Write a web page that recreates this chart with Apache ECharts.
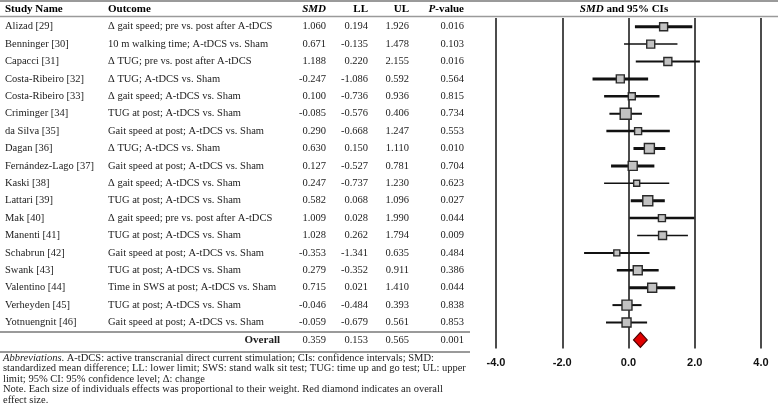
<!DOCTYPE html>
<html>
<head>
<meta charset="utf-8">
<title>Forest plot: SMD and 95% CIs</title>
<script src="https://cdn.jsdelivr.net/npm/echarts@6/dist/echarts.min.js"></script>
<style>
html, body { margin: 0; padding: 0; background: #fff; }
#chart { width: 778px; height: 411px; }
</style>
</head>
<body>
<div id="chart"></div>
<script>
// table values, one entry per study
var studies = ['Alizad [29]', 'Benninger [30]', 'Capacci [31]', 'Costa-Ribeiro [32]', 'Costa-Ribeiro [33]',
  'Criminger [34]', 'da Silva [35]', 'Dagan [36]', 'Fernández-Lago [37]', 'Kaski [38]', 'Lattari [39]',
  'Mak [40]', 'Manenti [41]', 'Schabrun [42]', 'Swank [43]', 'Valentino [44]', 'Verheyden [45]', 'Yotnuengnit [46]'];
var outcomes = ['Δ gait speed; pre vs. post after A-tDCS', '10 m walking time; A-tDCS vs. Sham',
  'Δ TUG; pre vs. post after A-tDCS', 'Δ TUG; A-tDCS vs. Sham', 'Δ gait speed; A-tDCS vs. Sham',
  'TUG at post; A-tDCS vs. Sham', 'Gait speed at post; A-tDCS vs. Sham', 'Δ TUG; A-tDCS vs. Sham',
  'Gait speed at post; A-tDCS vs. Sham', 'Δ gait speed; A-tDCS vs. Sham', 'TUG at post; A-tDCS vs. Sham',
  'Δ gait speed; pre vs. post after A-tDCS', 'TUG at post; A-tDCS vs. Sham', 'Gait speed at post; A-tDCS vs. Sham',
  'TUG at post; A-tDCS vs. Sham', 'Time in SWS at post; A-tDCS vs. Sham', 'TUG at post; A-tDCS vs. Sham',
  'Gait speed at post; A-tDCS vs. Sham'];
var smd = [1.060, 0.671, 1.188, -0.247, 0.100, -0.085, 0.290, 0.630, 0.127, 0.247, 0.582, 1.009, 1.028, -0.353, 0.279, 0.715, -0.046, -0.059];
var ll = [0.194, -0.135, 0.220, -1.086, -0.736, -0.576, -0.668, 0.150, -0.527, -0.737, 0.068, 0.028, 0.262, -1.341, -0.352, 0.021, -0.484, -0.679];
var ul = [1.926, 1.478, 2.155, 0.592, 0.936, 0.406, 1.247, 1.110, 0.781, 1.230, 1.096, 1.990, 1.794, 0.635, 0.911, 1.410, 0.393, 0.561];
var pValues = [0.016, 0.103, 0.016, 0.564, 0.815, 0.734, 0.553, 0.010, 0.704, 0.623, 0.027, 0.044, 0.009, 0.484, 0.386, 0.044, 0.838, 0.853];

// pooled estimate
var overallSmd = 0.359;
var overallLL = 0.153;
var overallUL = 0.565;
var overallP = 0.001;

var xTicks = [-4, -2, 0, 2, 4];

// look only: box size (px) and CI stroke width per study, as drawn in the figure
var boxSize = [8, 8, 8, 8, 7, 11, 7, 10, 9, 6, 10, 7, 8, 6, 9, 9, 10, 9];
var ciWidth = [3, 1.5, 2, 3, 2.5, 2, 2.5, 3, 3, 1.5, 3, 2.5, 1.5, 2, 2.5, 3, 2, 2];

var SERIF = '"Liberation Serif", "Times New Roman", serif';
var SANS = '"Liberation Sans", Arial, sans-serif';
var TXT = '#1c1c1c';
var nRows = studies.length + 1;   // studies + overall row
var GRID_LEFT = 496;

function fmt(v) { return v.toFixed(3); }
function blankExceptLast(last) {
  var arr = [];
  for (var i = 0; i < nRows - 1; i++) arr.push('');
  arr.push(last);
  return arr;
}

// every table column is a category axis sharing the plot rows
function columnAxis(labels, margin, align, extra) {
  return {
    type: 'category',
    position: 'left',
    inverse: true,
    data: labels,
    axisLine: { show: false },
    axisTick: { show: false },
    splitLine: { show: false },
    axisLabel: Object.assign({
      show: true, interval: 0, margin: margin, align: align,
      color: TXT, fontFamily: SERIF, fontSize: 10.5
    }, extra || {})
  };
}

var chart = echarts.init(document.getElementById('chart'));

var option = {
  animation: false,
  grid: { left: GRID_LEFT, right: 17, top: 18, bottom: 62.4, containLabel: false, outerBoundsMode: 'none' },
  xAxis: {
    type: 'value',
    min: xTicks[0], max: xTicks[xTicks.length - 1], interval: 2,
    axisLine: { show: false },
    axisTick: { show: false },
    splitLine: { show: true, lineStyle: { color: '#111', width: 1.5 } },
    axisLabel: {
      margin: 9, color: '#111', fontFamily: SANS, fontWeight: 'bold', fontSize: 11,
      formatter: function (v) { return v.toFixed(1); }
    }
  },
  yAxis: [
    columnAxis(studies.concat(['']), GRID_LEFT - 5, 'left'),
    columnAxis(outcomes.concat(['']), GRID_LEFT - 108, 'left'),
    columnAxis(smd.map(fmt).concat([fmt(overallSmd)]), GRID_LEFT - 326, 'right'),
    columnAxis(ll.map(fmt).concat([fmt(overallLL)]), GRID_LEFT - 368, 'right'),
    columnAxis(ul.map(fmt).concat([fmt(overallUL)]), GRID_LEFT - 409, 'right'),
    columnAxis(pValues.map(fmt).concat([fmt(overallP)]), GRID_LEFT - 464, 'right'),
    columnAxis(blankExceptLast('Overall'), GRID_LEFT - 280, 'right', { fontWeight: 'bold', fontSize: 11 })
  ],
  series: [
    {
      // 95% CI whiskers
      type: 'custom',
      silent: true,
      z: 2,
      data: studies.map(function (s, i) { return [ll[i], ul[i], i]; }),
      encode: { x: [0, 1], y: 2 },
      renderItem: function (params, api) {
        var row = api.value(2);
        var a = api.coord([api.value(0), row]);
        var b = api.coord([api.value(1), row]);
        return {
          type: 'line',
          shape: { x1: a[0], y1: a[1], x2: b[0], y2: b[1] },
          style: { stroke: '#111', lineWidth: ciWidth[params.dataIndex] }
        };
      }
    },
    {
      // study effect boxes
      type: 'scatter',
      silent: true,
      z: 3,
      symbol: 'rect',
      data: smd.map(function (v, i) { return [v, i]; }),
      symbolSize: function (val, params) { return boxSize[params.dataIndex]; },
      itemStyle: { color: '#c2c2c2', borderColor: '#2a2a2a', borderWidth: 1.4, opacity: 1 }
    },
    {
      // overall diamond spanning its CI
      type: 'custom',
      silent: true,
      z: 3,
      data: [[overallSmd, overallLL, overallUL, nRows - 1]],
      encode: { x: [0, 1, 2], y: 3 },
      renderItem: function (params, api) {
        var row = api.value(3);
        var c = api.coord([api.value(0), row]);
        var l = api.coord([api.value(1), row]);
        var r = api.coord([api.value(2), row]);
        var h = 7.5;
        return {
          type: 'polygon',
          shape: { points: [[l[0], c[1]], [c[0], c[1] - h], [r[0], c[1]], [c[0], c[1] + h]] },
          style: { fill: '#e00000', stroke: '#4d0000', lineWidth: 1.2 }
        };
      }
    }
  ],
  graphic: [
    // table rules
    { type: 'line', shape: { x1: 0, y1: 1, x2: 778, y2: 1 }, style: { stroke: '#9a9a9a', lineWidth: 2 } },
    { type: 'line', shape: { x1: 0, y1: 16.5, x2: 778, y2: 16.5 }, style: { stroke: '#9a9a9a', lineWidth: 1.5 } },
    { type: 'line', shape: { x1: 0, y1: 332, x2: 470, y2: 332 }, style: { stroke: '#9a9a9a', lineWidth: 2 } },
    { type: 'line', shape: { x1: 0, y1: 352, x2: 470, y2: 352 }, style: { stroke: '#9a9a9a', lineWidth: 2 } },
    // header row
    { type: 'text', x: 5, y: 9, style: { text: 'Study Name', fontFamily: SERIF, fontSize: 11, fontWeight: 'bold', fill: '#000', align: 'left', verticalAlign: 'middle' } },
    { type: 'text', x: 108, y: 9, style: { text: 'Outcome', fontFamily: SERIF, fontSize: 11, fontWeight: 'bold', fill: '#000', align: 'left', verticalAlign: 'middle' } },
    { type: 'text', x: 326, y: 9, style: { text: 'SMD', fontFamily: SERIF, fontSize: 11, fontWeight: 'bold', fontStyle: 'italic', fill: '#000', align: 'right', verticalAlign: 'middle' } },
    { type: 'text', x: 368, y: 9, style: { text: 'LL', fontFamily: SERIF, fontSize: 11, fontWeight: 'bold', fill: '#000', align: 'right', verticalAlign: 'middle' } },
    { type: 'text', x: 409, y: 9, style: { text: 'UL', fontFamily: SERIF, fontSize: 11, fontWeight: 'bold', fill: '#000', align: 'right', verticalAlign: 'middle' } },
    { type: 'text', x: 464, y: 9, style: {
      text: '{i|P}-value', fontFamily: SERIF, fontSize: 11, fontWeight: 'bold', fill: '#000', align: 'right', verticalAlign: 'middle',
      rich: { i: { fontFamily: SERIF, fontSize: 11, fontWeight: 'bold', fontStyle: 'italic', fill: '#000' } } } },
    { type: 'text', x: 624, y: 9, style: {
      text: '{i|SMD} and 95% CIs', fontFamily: SERIF, fontSize: 11, fontWeight: 'bold', fill: '#000', align: 'center', verticalAlign: 'middle',
      rich: { i: { fontFamily: SERIF, fontSize: 11, fontWeight: 'bold', fontStyle: 'italic', fill: '#000' } } } },
    // footnote
    { type: 'text', x: 3, y: 353, style: {
      text: '{i|Abbreviations}. A-tDCS: active transcranial direct current stimulation; CIs: confidence intervals; SMD:\n' +
        'standardized mean difference; LL: lower limit; SWS: stand walk sit test; TUG: time up and go test; UL: upper\n' +
        'limit; 95% CI: 95% confidence level; Δ: change\n' +
        'Note. Each size of individuals effects was proportional to their weight. Red diamond indicates an overall\n' +
        'effect size.',
      fontFamily: SERIF, fontSize: 10.5, lineHeight: 10.4, fill: TXT, align: 'left', verticalAlign: 'top',
      rich: { i: { fontFamily: SERIF, fontSize: 10.5, fontStyle: 'italic', fill: TXT, lineHeight: 10.4 } } } }
  ]
};

chart.setOption(option);
</script>
</body>
</html>
